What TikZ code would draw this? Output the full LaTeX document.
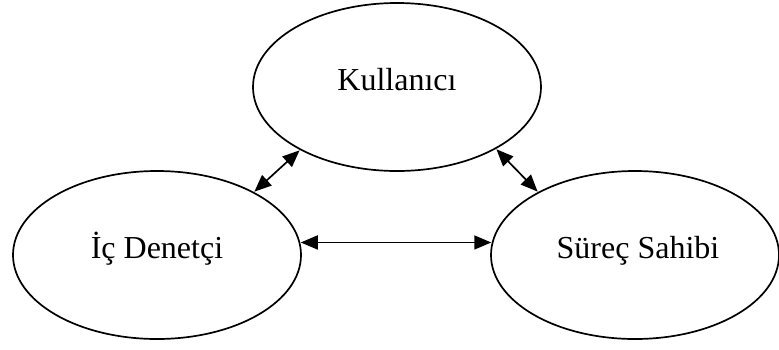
\documentclass[tikz,border=0pt]{standalone}
\usepackage{fontspec}
\setmainfont{Liberation Serif}
\usetikzlibrary{shapes.geometric,arrows.meta}
\begin{document}
\begin{tikzpicture}[x=1pt,y=-1pt,
  oval/.style={draw=black,ellipse,line width=1.7pt,minimum width=288pt,minimum height=168pt,inner sep=0pt},
  lbl/.style={anchor=base,font=\fontsize{32}{38}\selectfont,inner sep=0pt},
  link/.style={line width=1.7pt,{Triangle[length=17pt,width=14pt]}-{Triangle[length=17pt,width=14pt]},shorten <=0.5pt,shorten >=0.5pt}]
\useasboundingbox (0,0) rectangle (779,349);
\fill[white] (0,0) rectangle (779,349);
\node[oval] (kul) at (397,87) {};
\node[oval] (ic) at (157,255) {};
\node[oval] (sur) at (635,255) {};
\node[lbl] (tkul) at (397,90) {Kullanıcı};
\node[lbl] (tic) at (157,258) {İç Denetçi};
\node[lbl] (tsur) at (638,258) {Süreç Sahibi};
\draw[link] (ic.33) -- (kul.213);
\draw[link] (kul.328) -- (sur.147);
\draw[link] (ic.5) -- (sur.175);
\end{tikzpicture}
\end{document}
